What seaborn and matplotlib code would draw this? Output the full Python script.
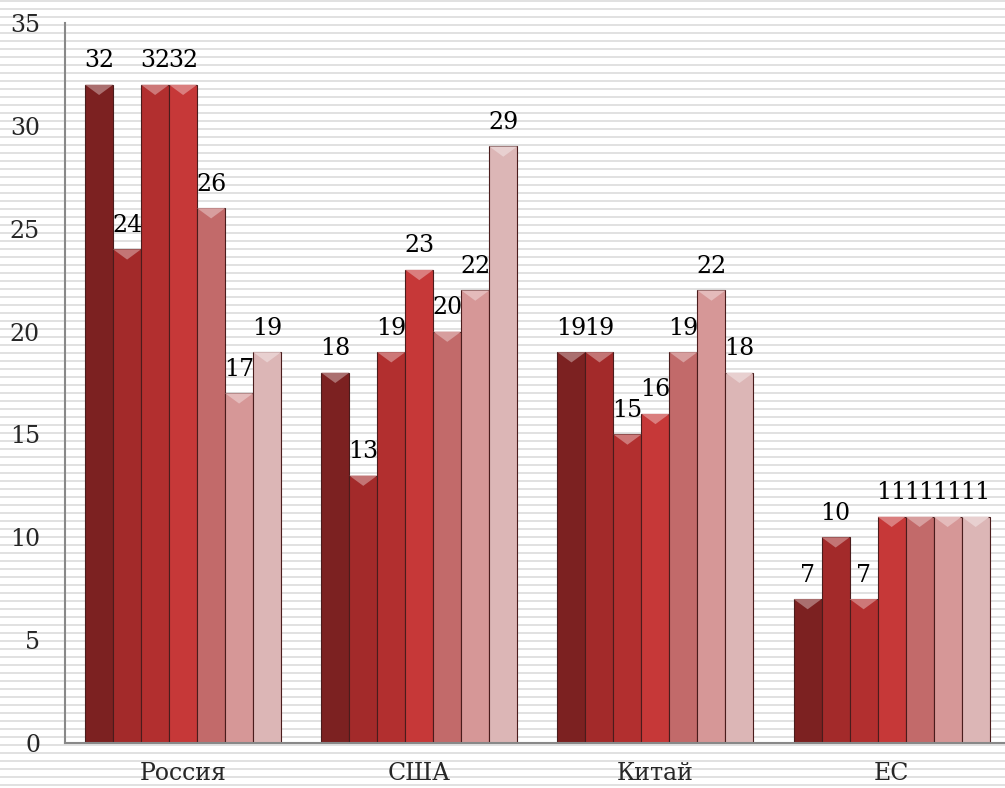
import numpy as np
import pandas as pd
import seaborn as sns
import matplotlib.pyplot as plt
import matplotlib.colors as mcolors
from matplotlib.patches import Polygon

# chart data
regions = ['Россия', 'США', 'Китай', 'ЕС']
series = ['1', '2', '3', '4', '5', '6', '7']
values = {
    'Россия': [32, 24, 32, 32, 26, 17, 19],
    'США':    [18, 13, 19, 23, 20, 22, 29],
    'Китай':  [19, 19, 15, 16, 19, 22, 18],
    'ЕС':     [7, 10, 7, 11, 11, 11, 11],
}
colors = ['#7c2121', '#a32a2a', '#b22f2f', '#c63838', '#c26a6a', '#d69797', '#dcb6b6']

rows = []
for r in regions:
    for s, v in zip(series, values[r]):
        rows.append({'region': r, 'series': s, 'value': v})
df = pd.DataFrame(rows)

sns.set_style('white')
plt.rcParams['font.family'] = ['DejaVu Serif']

fig = plt.figure(figsize=(10.05, 7.88), dpi=100)

# striped background
bg = fig.add_axes([0, 0, 1, 1], zorder=-1)
bg.set_xlim(0, 1)
bg.set_ylim(0, 788)
bg.hlines(np.arange(3.5, 788, 8), 0, 1, color='#dcdcdc', linewidth=1.2)
bg.axis('off')

ax = fig.add_axes([0.0647, 0.0571, 0.9353, 0.9137])
ax.set_facecolor('none')

sns.barplot(data=df, x='region', y='value', hue='series', palette=colors,
            saturation=1, width=0.83, gap=0, edgecolor='#4a1c1c', linewidth=0.8,
            legend=False, ax=ax)

ax.set_ylim(0, 35)

# bevel highlight on bar tops, taken from each bar's own geometry
depth = 0.5
for c in ax.containers:
    for p in c.patches:
        x0, w, h = p.get_x(), p.get_width(), p.get_height()
        fc = np.array(mcolors.to_rgb(p.get_facecolor()))
        light = fc + (1 - fc) * 0.35
        tri = Polygon([[x0, h], [x0 + w, h], [x0 + w / 2, h - depth]],
                      closed=True, facecolor=light, edgecolor='none', zorder=p.get_zorder() + 0.1)
        ax.add_patch(tri)
    ax.bar_label(c, padding=9, fontsize=17, color='black')

ax.set_yticks(range(0, 36, 5))
ax.set_xlim(-0.5, 3.48)
ax.set_xlabel('')
ax.set_ylabel('')
ax.tick_params(axis='y', labelsize=17, length=6, color='#888888', pad=12)
ax.tick_params(axis='x', labelsize=17, length=0, pad=14)
ax.set_xticks([0.5, 1.5, 2.5], minor=True)
ax.tick_params(axis='x', which='minor', length=7, color='#888888')

for side in ['top', 'right']:
    ax.spines[side].set_visible(False)
for side in ['left', 'bottom']:
    ax.spines[side].set_color('#888888')
    ax.spines[side].set_linewidth(1.5)

fig.savefig('out.png', dpi=100)
